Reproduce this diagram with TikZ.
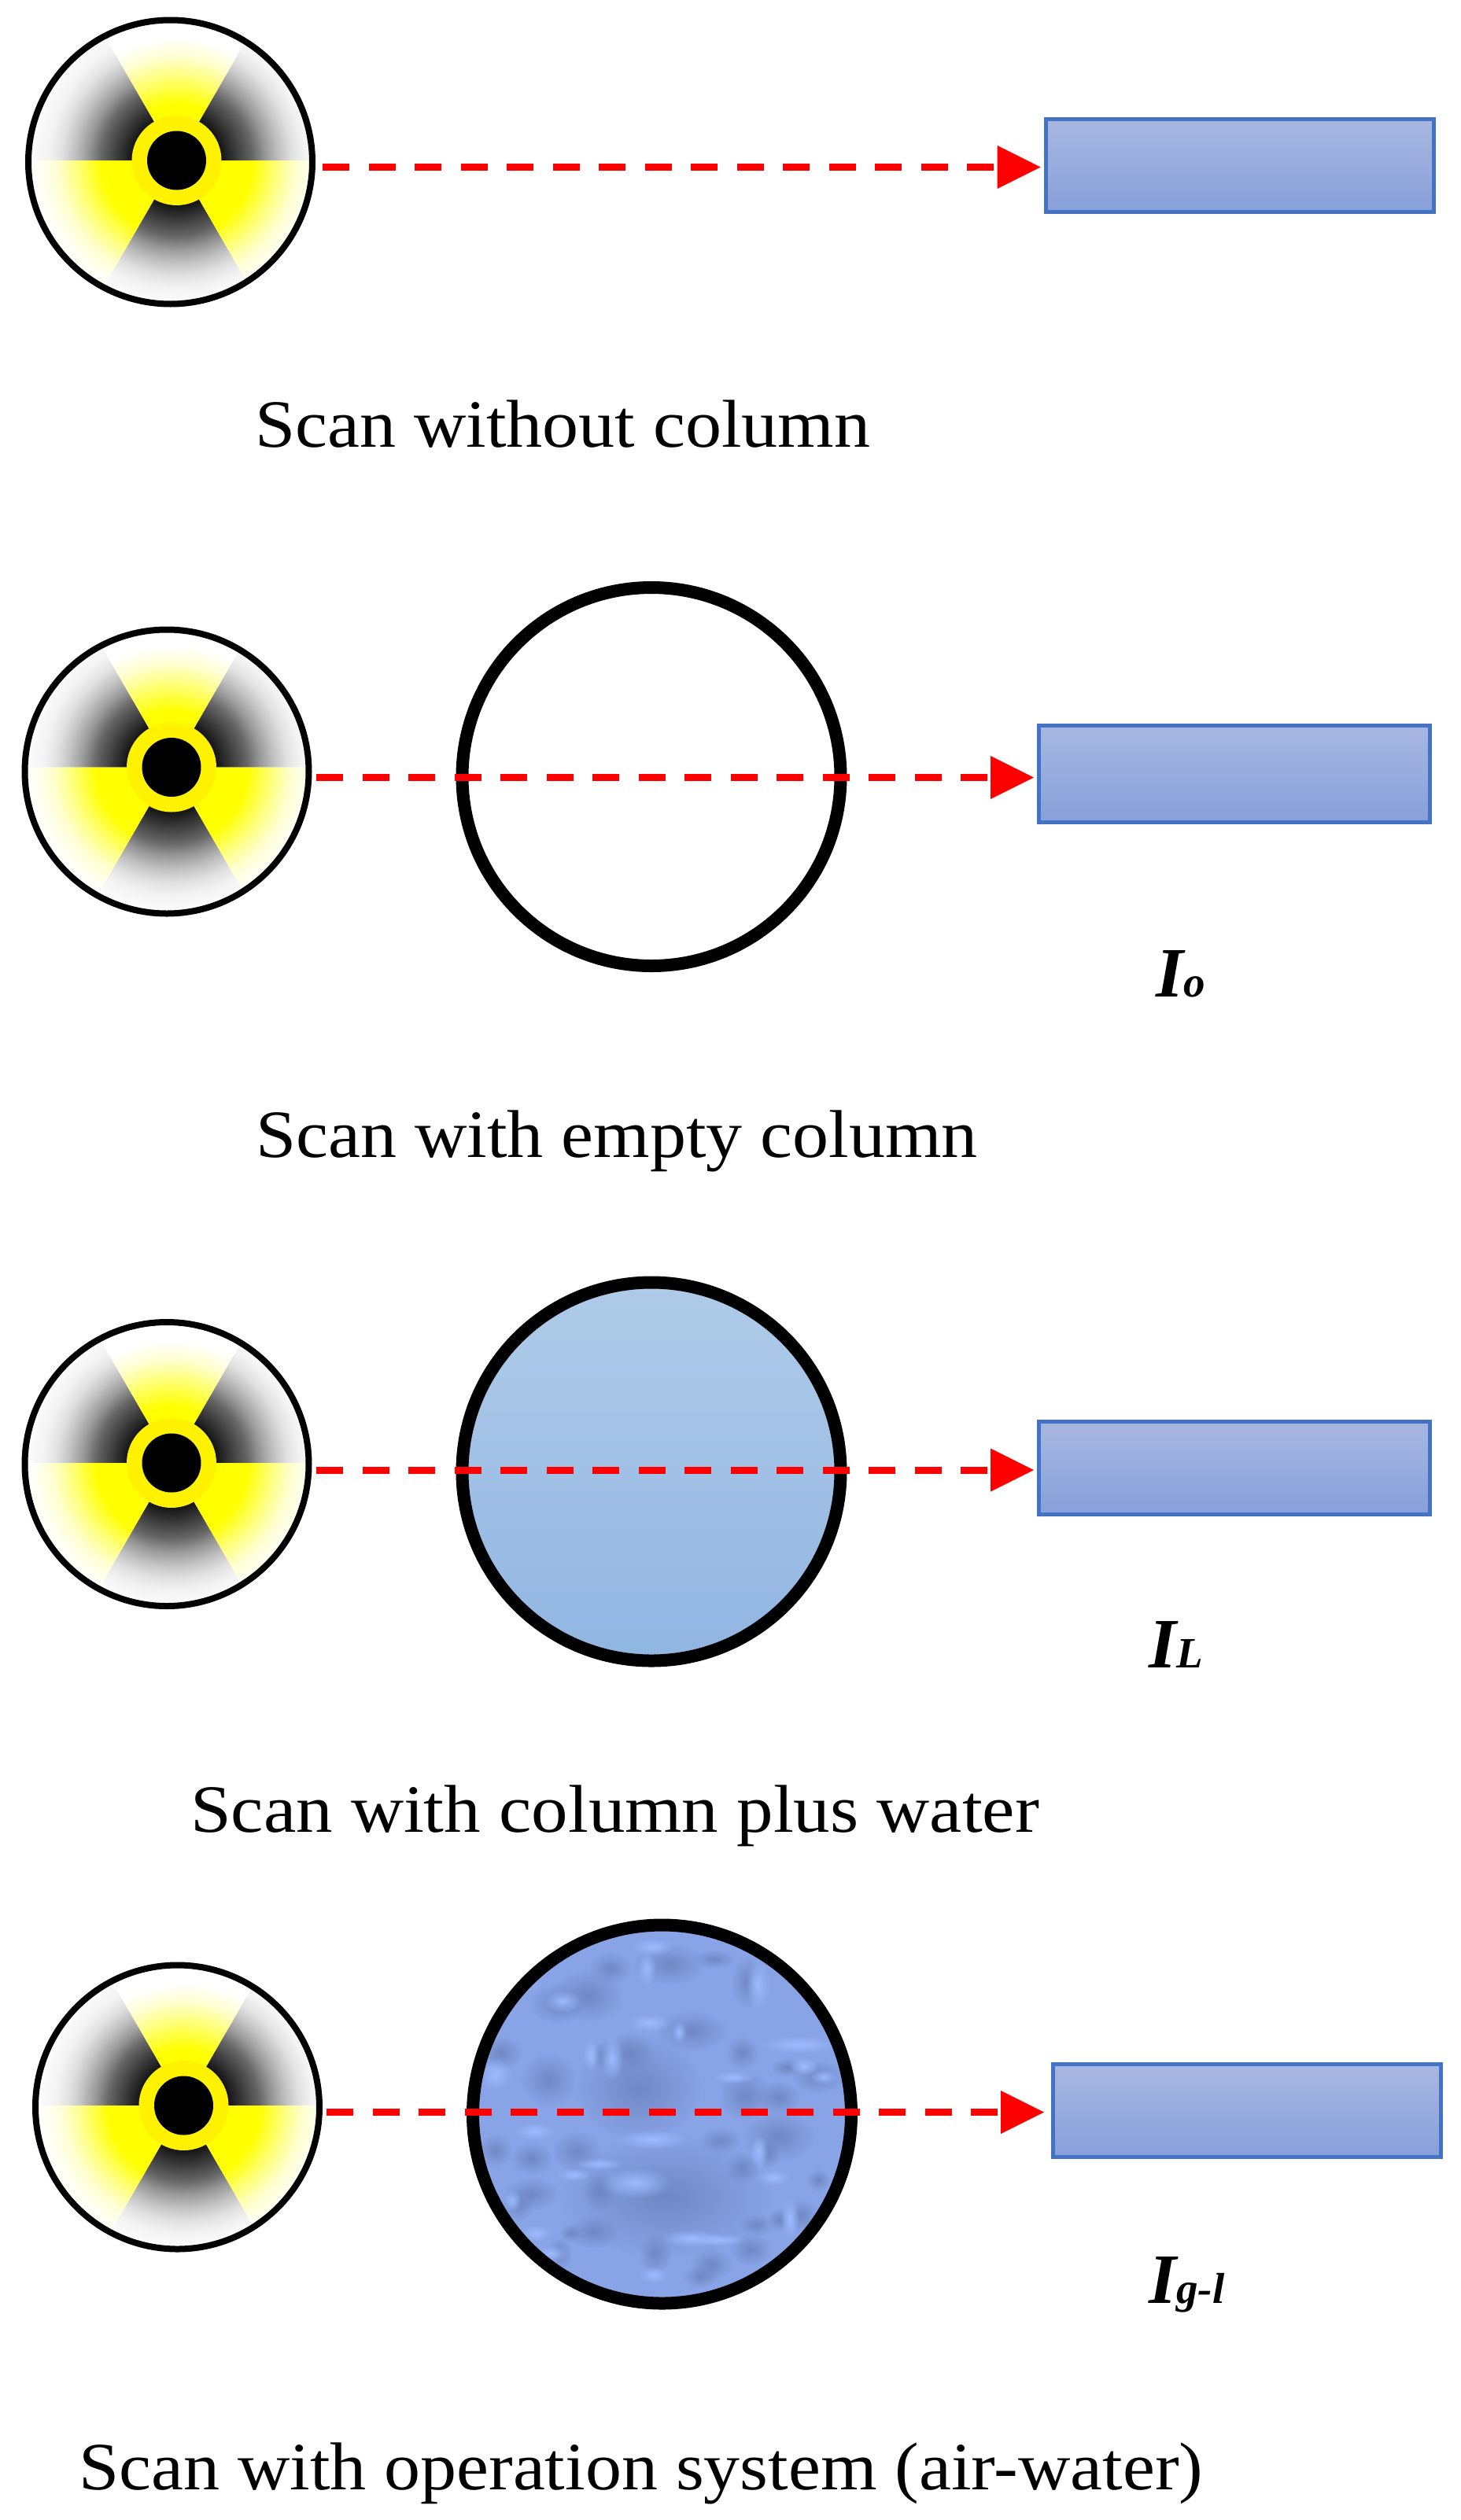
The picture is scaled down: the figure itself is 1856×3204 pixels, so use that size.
\documentclass[tikz,border=0pt]{standalone}
\usepackage{fontspec}
\setmainfont[FakeStretch=1.07]{Liberation Serif}
\newfontfamily\lblfont{Liberation Serif}
\usetikzlibrary{arrows.meta,fadings}
\definecolor{detline}{HTML}{4472C4}
\definecolor{dettop}{HTML}{A8B7E0}
\definecolor{detbot}{HTML}{87A0DA}
\definecolor{watertop}{HTML}{AFCBE8}
\definecolor{waterbot}{HTML}{91B5E2}
\definecolor{foambase}{HTML}{88A3E6}
\definecolor{foamdark}{HTML}{6A82BC}
\definecolor{foamlight}{HTML}{9DBBFF}
% a shaded path's box maps to 25bp of radius: 200pt radius = 25bp
\pgfdeclareradialshading{blackwedge}{\pgfpoint{0bp}{0bp}}{%
  color(0bp)=(black!92);color(7.1bp)=(black!92);color(12bp)=(black!60);
  color(14.1bp)=(black!40);color(16.25bp)=(black!24);color(18.25bp)=(black!12);
  color(20.25bp)=(black!5);color(23.75bp)=(white);color(50bp)=(white)}
\pgfdeclareradialshading{yellowside}{\pgfpoint{0bp}{0bp}}{%
  rgb(0bp)=(1,1,0);rgb(12bp)=(1,1,0);rgb(16bp)=(1,1,.5);
  rgb(19bp)=(1,1,.82);rgb(22bp)=(1,1,.97);rgb(25bp)=(1,1,1);rgb(50bp)=(1,1,1)}
\pgfdeclareradialshading{yellowtop}{\pgfpoint{0bp}{0bp}}{%
  rgb(0bp)=(1,1,0);rgb(9bp)=(1,1,0);rgb(13bp)=(1,1,.44);
  rgb(16.5bp)=(1,1,.82);rgb(19.5bp)=(1,1,1);rgb(50bp)=(1,1,1)}
\tikzfading[name=softblob,inner color=transparent!0,outer color=transparent!100]
\tikzset{
  x=1pt,y=-1pt,
  srcring/.style={circle,draw=black,line width=8pt,minimum size=361pt,inner sep=0pt},
  colring/.style={circle,draw=black,line width=16pt,minimum size=481pt,inner sep=0pt},
  waterfill/.style={top color=watertop,bottom color=waterbot},
  detector/.style={rectangle,draw=detline,line width=5pt,top color=dettop,bottom color=detbot,inner sep=0pt},
  beam/.style={red,line width=9pt,dash pattern=on 34pt off 24.5pt,-{Triangle[length=55pt,width=55pt,line width=0pt]}},
  caption/.style={anchor=base west,inner sep=0pt,font=\fontsize{86pt}{90pt}\selectfont},
  intensity/.style={anchor=base west,inner sep=0pt,font=\lblfont\bfseries\itshape\fontsize{90pt}{90pt}\selectfont},
}
\newcommand{\subtxt}[1]{{\fontsize{55pt}{55pt}\selectfont #1}}
% #1,#2 ring centre, #3,#4 trefoil centre, #5 node name
\newcommand{\radsource}[5]{%
  \begin{scope}
    \clip (#1,#2) circle (178pt);
    \begin{scope}[shift={(#3,#4)}]
      \begin{scope}\clip (0,0) -- (-60:320) -- (0:320) -- cycle;
        \shade[shading=blackwedge] (0,0) circle (200pt);\end{scope}
      \begin{scope}\clip (0,0) -- (-180:320) -- (-120:320) -- cycle;
        \shade[shading=blackwedge] (0,0) circle (200pt);\end{scope}
      \begin{scope}\clip (0,0) -- (60:320) -- (120:320) -- cycle;
        \shade[shading=blackwedge] (0,0) circle (200pt);\end{scope}
      \begin{scope}\clip (0,0) -- (-120:320) -- (-60:320) -- cycle;
        \shade[shading=yellowtop] (0,0) circle (200pt);\end{scope}
      \begin{scope}\clip (0,0) -- (0:320) -- (60:320) -- cycle;
        \shade[shading=yellowside] (0,0) circle (200pt);\end{scope}
      \begin{scope}\clip (0,0) -- (120:320) -- (180:320) -- cycle;
        \shade[shading=yellowside] (0,0) circle (200pt);\end{scope}
      \fill[yellow] (0,0) circle (57pt);
      \fill[black] (0,0) circle (37.5pt);
    \end{scope}
  \end{scope}
  \node[srcring] (#5) at (#1,#2) {};}
\begin{document}
\begin{tikzpicture}
\useasboundingbox (0,0) rectangle (1856,3204);
\fill[white] (0,0) rectangle (1856,3204);
% row 1
\radsource{216.5}{206}{224.5}{204}{src1}
\node[detector,minimum width=493pt,minimum height=118pt] (det1) at (1576,210.5) {};
\draw[beam] ([shift={(9pt,-6.5pt)}]src1.east) -- ([shift={(-4.5pt,-2pt)}]det1.west);
\node[caption] (cap1) at (324,568) {Scan without column};
% row 2
\radsource{212}{981}{218}{975.5}{src2}
\node[colring] (col2) at (828,987.5) {};
\node[detector,minimum width=497pt,minimum height=123pt] (det2) at (1569,984) {};
\draw[beam] ([shift={(5.5pt,-7.5pt)}]src2.east) -- ([shift={(-4pt,-4.5pt)}]det2.west);
\node[intensity] (io) at (1469,1267) {I\subtxt{o}};
\node[caption] (cap2) at (325,1471) {Scan with empty column};
% row 3
\radsource{212}{1861.5}{218}{1860}{src3}
\node[colring,waterfill] (col3) at (828,1871) {};
\node[detector,minimum width=497pt,minimum height=118pt] (det3) at (1569,1866.5) {};
\draw[beam] ([shift={(5.5pt,-7.5pt)}]src3.east) -- ([shift={(-4pt,-2.5pt)}]det3.west);
\node[intensity] (il) at (1460,2120) {I\subtxt{L}};
\node[caption] (cap3) at (242,2329) {\scalebox{1.01}[1]{Scan with column plus water}};
% row 4
\radsource{225.5}{2679}{233.5}{2677}{src4}
\begin{scope}
  \clip (841.5,2688) circle (241pt);
  \fill[foambase] (841.5,2688) circle (241pt);
  \begin{scope}[shift={(540,2420)},x=0.357pt,y=-0.345pt]
    \foreach \zx/\zy/\rx/\ry in {
      860/1080/250/150,760/680/150/130,580/340/85/65,870/225/85/50,660/240/50/40,
      950/470/85/50,730/550/60/50,640/560/28/38,440/650/65/65,1130/550/40/40,
      1140/710/62/62,1260/715/50/40,1260/860/85/62,1050/875/50/32,1220/920/28/38,
      540/915/58/50,270/550/50/40,250/910/40/40,380/940/50/40,380/1070/62/40,
      330/1110/40/40,620/1060/40/50,600/1210/62/40,520/1215/28/22,820/1290/40/50,
      1020/1330/50/40,980/1375/40/28,1160/1275/50/40,1180/1185/40/28,1400/640/62/40,
      1290/605/40/22,1130/975/40/40,1150/290/40/62,1030/205/50/22,470/370/62/50,
      480/1290/28/40,1260/1165/28/28,1340/1150/40/40,1400/1020/28/28}
      \fill[foamdark,path fading=softblob,fill opacity=.8] (\zx,\zy) ellipse [x radius=1.5*\rx,y radius=1.5*\ry];
    \foreach \zx/\zy/\rx/\ry in {
      665/570/28/55,790/240/22/42,1185/300/28/65,490/360/45/28,905/475/18/28,
      750/1030/85/38,810/870/85/24,1190/915/22/42,1300/1160/22/52,395/1215/40/22,
      530/1000/40/16,815/1370/34/22,1420/640/34/18,1350/600/34/22,810/160/50/22,
      800/440/50/22,390/840/50/22,1330/520/95/22,950/1235/75/22,310/1095/22/28,
      250/630/40/40,590/560/18/40,450/1290/40/20,620/960/60/15,1050/1240/60/15,
      330/300/60/20,1100/640/50/16,1240/1010/40/20}
      \fill[foamlight,path fading=softblob] (\zx,\zy) ellipse [x radius=1.5*\rx,y radius=1.5*\ry];
  \end{scope}
\end{scope}
\node[colring] (col4) at (841.5,2688) {};
\node[detector,minimum width=493pt,minimum height=118pt] (det4) at (1585,2683.5) {};
\draw[beam] ([shift={(5pt,-6.5pt)}]src4.east) -- ([shift={(-9pt,-2pt)}]det4.west);
\node[intensity] (igl) at (1460,2928) {I\subtxt{g-l}};
\node[caption] (cap4) at (100,3165) {Scan with operation system (air-water)};
\end{tikzpicture}
\end{document}
